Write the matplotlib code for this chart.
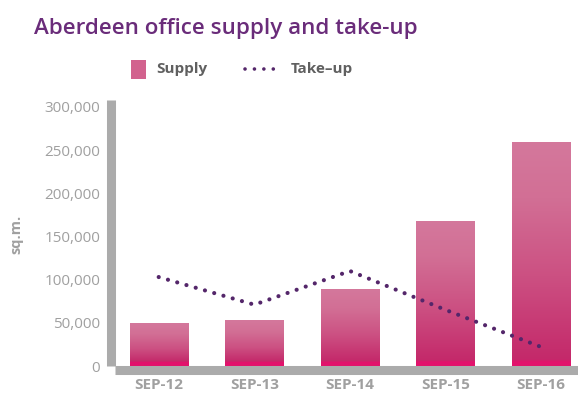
import matplotlib
matplotlib.use("Agg")
import matplotlib.pyplot as plt
import numpy as np
from matplotlib.patches import Rectangle
from matplotlib.lines import Line2D
from matplotlib.colors import LinearSegmentedColormap
from matplotlib.ticker import FuncFormatter

categories = ["SEP-12", "SEP-13", "SEP-14", "SEP-15", "SEP-16"]
supply = [49500, 53000, 89000, 168000, 259000]
takeup = [103000, 71000, 110000, 65000, 22000]
yticks = [0, 50000, 100000, 150000, 200000, 250000, 300000]

plt.rcParams['font.family'] = ['Open Sans', 'DejaVu Sans']

W, H = 578, 396
fig = plt.figure(figsize=(W / 100, H / 100), dpi=100)
AX_TOP, AX_BOT = 100, 366
ax = fig.add_axes([115 / W, 1 - AX_BOT / H, (578 - 115) / W, (AX_BOT - AX_TOP) / H])
YMAX = 308000

x = np.arange(len(categories))
bars = ax.bar(x, supply, width=0.61, color="#cf6b93", zorder=2)

grad = np.linspace(0, 1, 256).reshape(-1, 1)
for b in bars:
    x0, y0 = b.get_x(), b.get_y()
    w, h = b.get_width(), b.get_height()
    hpx = h / YMAX * (AX_BOT - AX_TOP)
    s = 4.0 / hpx
    cmap = LinearSegmentedColormap.from_list(
        "g", [(0.0, "#e2126c"), (s, "#e2126c"), (min(s + 0.01, 0.5), "#c4296a"),
              (0.4, "#cc5082"), (0.75, "#d26f95"), (1.0, "#d4789c")])
    im = ax.imshow(grad, cmap=cmap, aspect="auto", origin="lower",
                   extent=[x0, x0 + w, y0, y0 + h], zorder=2.5,
                   interpolation="bilinear")
    im.set_clip_path(b)

ax.plot(x, takeup, color="#54266a", lw=3.0, linestyle=(0, (0.01, 2.3)),
        dash_capstyle="round", zorder=3)

ax.set_xlim(-0.457, 4.385)
ax.set_ylim(0, YMAX)
ax.set_xticks(x)
ax.set_xticklabels(categories)
ax.set_yticks(yticks)
ax.yaxis.set_major_formatter(FuncFormatter(lambda v, p: f"{int(v):,}"))

for s_ in ["top", "right"]:
    ax.spines[s_].set_visible(False)
for s_ in ["left", "bottom"]:
    ax.spines[s_].set_color("#ababab")
    ax.spines[s_].set_linewidth(6.5)
    ax.spines[s_].set_position(("outward", 3.2))
    ax.spines[s_].set_capstyle("butt")

ax.tick_params(axis="both", length=0)
ax.tick_params(axis="y", pad=7.5, labelsize=11, labelcolor="#a0a0a0")
ax.tick_params(axis="x", pad=5.5, labelsize=11, labelcolor="#a0a0a0")
for t in ax.get_xticklabels():
    t.set_fontweight("bold")

fig.text(16 / W, 1 - 234 / H, "sq.m.", rotation=90, ha="center", va="center",
         fontsize=10.5, fontweight="bold", color="#a0a0a0")

fig.text(34 / W, 1 - 34 / H, "Aberdeen office supply and take-up",
         ha="left", va="baseline", fontsize=16.1, fontweight="semibold",
         color="#6a2c7a")

# legend (manual)
fig.patches.append(Rectangle((131 / W, 1 - 79 / H), 15 / W, 19 / H,
                             transform=fig.transFigure, facecolor="#d2628e",
                             edgecolor="none"))
fig.lines.append(Line2D([245 / W, 281 / W], [1 - 69 / H, 1 - 69 / H],
                        transform=fig.transFigure, color="#54266a", lw=2.6,
                        linestyle=(0, (0.01, 2.6)), dash_capstyle="round"))
fig.text(156 / W, 1 - 69 / H, "Supply", ha="left", va="center", fontsize=11,
         fontweight="bold", color="#606060")
fig.text(291 / W, 1 - 69 / H, "Take\u2013up", ha="left", va="center", fontsize=11,
         fontweight="bold", color="#606060")

fig.savefig("out.png", dpi=100)
